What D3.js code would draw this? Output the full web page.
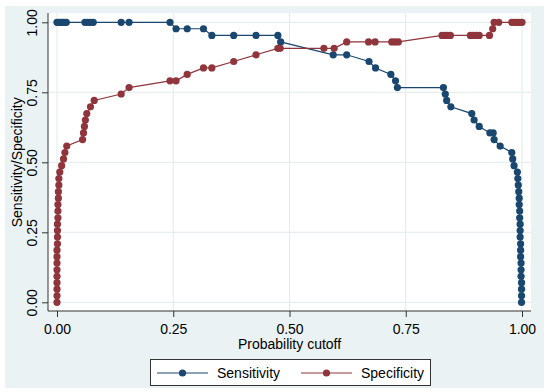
<!DOCTYPE html>
<html>
<head>
<meta charset="utf-8">
<script src="https://cdn.jsdelivr.net/npm/d3@7"></script>
<style>
  html, body { margin: 0; padding: 0; background: #fff; }
  svg { display: block; font-family: "Liberation Sans", Arial, sans-serif; }
</style>
</head>
<body>
<svg id="chart" width="550" height="392"></svg>
<script>
// values: [cutoff, value]
const sensitivity = [
  [0.000, 1], [0.004, 1], [0.008, 1], [0.012, 1], [0.016, 1], [0.020, 1],
  [0.060, 1], [0.066, 1], [0.072, 1], [0.078, 1],
  [0.138, 1], [0.155, 1], [0.243, 1],
  [0.256, 0.977], [0.280, 0.977], [0.315, 0.977],
  [0.333, 0.953], [0.380, 0.953], [0.428, 0.953], [0.475, 0.953],
  [0.481, 0.930],
  [0.594, 0.884], [0.623, 0.884],
  [0.671, 0.860], [0.685, 0.837], [0.718, 0.814], [0.728, 0.791], [0.732, 0.767],
  [0.831, 0.767], [0.835, 0.744], [0.838, 0.721], [0.847, 0.698],
  [0.892, 0.674], [0.897, 0.651], [0.908, 0.628],
  [0.931, 0.605], [0.938, 0.605], [0.940, 0.581], [0.953, 0.558],
  [0.978, 0.535], [0.980, 0.512], [0.983, 0.488], [0.990, 0.465],
  [0.991, 0.442], [0.992, 0.419], [0.993, 0.395], [0.994, 0.372], [0.994, 0.349],
  [0.995, 0.326], [0.995, 0.302], [0.996, 0.279], [0.996, 0.256], [0.996, 0.233],
  [0.997, 0.209], [0.997, 0.186], [0.997, 0.163], [0.998, 0.140], [0.998, 0.116],
  [0.998, 0.093], [0.999, 0.070], [0.999, 0.047], [0.999, 0.023], [0.999, 0]
];

const specificity = [
  [0.000, 0], [0.000, 0.023], [0.000, 0.047], [0.000, 0.070], [0.000, 0.093],
  [0.000, 0.116], [0.000, 0.140], [0.000, 0.163], [0.000, 0.186], [0.001, 0.209],
  [0.001, 0.233], [0.001, 0.256], [0.001, 0.279], [0.002, 0.302], [0.002, 0.326],
  [0.002, 0.349], [0.003, 0.372], [0.003, 0.395], [0.004, 0.419], [0.004, 0.442],
  [0.006, 0.465], [0.010, 0.488], [0.014, 0.512], [0.017, 0.535], [0.021, 0.558],
  [0.055, 0.581], [0.057, 0.605], [0.059, 0.628], [0.061, 0.651], [0.064, 0.674],
  [0.072, 0.698], [0.080, 0.721],
  [0.138, 0.744], [0.155, 0.767], [0.243, 0.791], [0.256, 0.791], [0.280, 0.814],
  [0.315, 0.837], [0.333, 0.837], [0.380, 0.860], [0.428, 0.884], [0.475, 0.907],
  [0.480, 0.907], [0.574, 0.907], [0.596, 0.907],
  [0.623, 0.930], [0.670, 0.930], [0.684, 0.930], [0.720, 0.930], [0.727, 0.930], [0.734, 0.930],
  [0.828, 0.953], [0.834, 0.953], [0.840, 0.953], [0.846, 0.953],
  [0.889, 0.953], [0.895, 0.953], [0.902, 0.953], [0.908, 0.953], [0.930, 0.953],
  [0.937, 0.977], [0.940, 1], [0.950, 1],
  [0.978, 1], [0.984, 1], [0.990, 1], [0.995, 1], [1.000, 1]
];

const xTicks = [0, 0.25, 0.5, 0.75, 1];
const yTicks = [0, 0.25, 0.5, 0.75, 1];
const seriesNames = ['Sensitivity', 'Specificity'];
const xTitle = 'Probability cutoff';
const yTitle = 'Sensitivity/Specificity';

const navy = '#1a476f';
const maroon = '#90353b';
const bg = '#eaf2f3';
const grid = '#e2eaec';
const fontSize = 14;

const svg = d3.select('#chart');

// plot area bounds
const plot = { left: 48, right: 531, top: 13, bottom: 311 };

const x = d3.scaleLinear().domain([0, 1]).range([57, 522]);
const y = d3.scaleLinear().domain([0, 1]).range([302.3, 22.3]);

svg.append('rect')
    .attr('x', 5).attr('y', 6)
    .attr('width', 539).attr('height', 382)
    .attr('fill', bg);

svg.append('rect')
    .attr('x', plot.left).attr('y', plot.top)
    .attr('width', plot.right - plot.left).attr('height', plot.bottom - plot.top)
    .attr('fill', '#fff');

// grid
svg.append('g')
    .selectAll('line')
    .data(yTicks)
    .join('line')
    .attr('x1', plot.left).attr('x2', plot.right)
    .attr('y1', d => y(d)).attr('y2', d => y(d))
    .attr('stroke', grid).attr('stroke-width', 1);

svg.append('g')
    .selectAll('line')
    .data(xTicks)
    .join('line')
    .attr('x1', d => x(d)).attr('x2', d => x(d))
    .attr('y1', plot.top).attr('y2', plot.bottom)
    .attr('stroke', grid).attr('stroke-width', 1);

// axes
const xAxis = svg.append('g')
    .attr('transform', `translate(0,${plot.bottom})`)
    .call(d3.axisBottom(x).tickValues(xTicks).tickFormat(d3.format('.2f')).tickSize(6).tickPadding(7).tickSizeOuter(0));
xAxis.select('.domain').attr('d', `M${plot.left},0H${plot.right}`);

const yAxis = svg.append('g')
    .attr('transform', `translate(${plot.left},0)`)
    .call(d3.axisLeft(y).tickValues(yTicks).tickFormat(d3.format('.2f')).tickSize(6).tickSizeOuter(0));
yAxis.select('.domain').attr('d', `M0,${plot.top}V${plot.bottom}`);

yAxis.selectAll('.tick text')
    .attr('x', null).attr('dy', null)
    .attr('text-anchor', 'middle')
    .attr('transform', 'translate(-11,0) rotate(-90)');

svg.selectAll('.domain, .tick line').attr('stroke', '#333').attr('stroke-width', 1);
svg.selectAll('.tick text').attr('font-size', fontSize).attr('fill', '#000')
    .attr('font-family', '"Liberation Sans", Arial, sans-serif');

svg.append('text')
    .attr('x', (x(0) + x(1)) / 2).attr('y', 349)
    .attr('text-anchor', 'middle').attr('font-size', fontSize)
    .text(xTitle);

svg.append('text')
    .attr('transform', `translate(22,${(y(0) + y(1)) / 2}) rotate(-90)`)
    .attr('text-anchor', 'middle').attr('font-size', fontSize)
    .text(yTitle);

// series
const line = d3.line().x(d => x(d[0])).y(d => y(d[1]));

function drawSeries(data, color) {
    svg.append('path')
        .datum(data)
        .attr('fill', 'none')
        .attr('stroke', color)
        .attr('stroke-width', 1.2)
        .attr('d', line);
    svg.append('g')
        .selectAll('circle')
        .data(data)
        .join('circle')
        .attr('cx', d => x(d[0]))
        .attr('cy', d => y(d[1]))
        .attr('r', 3.6)
        .attr('fill', color);
}

drawSeries(sensitivity, navy);
drawSeries(specificity, maroon);

// legend
const legend = svg.append('g');
legend.append('rect')
    .attr('x', 150.5).attr('y', 359.5)
    .attr('width', 280).attr('height', 26)
    .attr('fill', '#fff').attr('stroke', '#333').attr('stroke-width', 1);

const items = [
    { name: seriesNames[0], color: navy, x0: 157 },
    { name: seriesNames[1], color: maroon, x0: 301 }
];
const ly = 373;
items.forEach(it => {
    legend.append('line')
        .attr('x1', it.x0).attr('x2', it.x0 + 51)
        .attr('y1', ly).attr('y2', ly)
        .attr('stroke', it.color).attr('stroke-width', 1.2);
    legend.append('circle')
        .attr('cx', it.x0 + 25.5).attr('cy', ly).attr('r', 3.6)
        .attr('fill', it.color);
    legend.append('text')
        .attr('x', it.x0 + 60).attr('y', ly + 5)
        .attr('font-size', fontSize)
        .text(it.name);
});
</script>
</body>
</html>
